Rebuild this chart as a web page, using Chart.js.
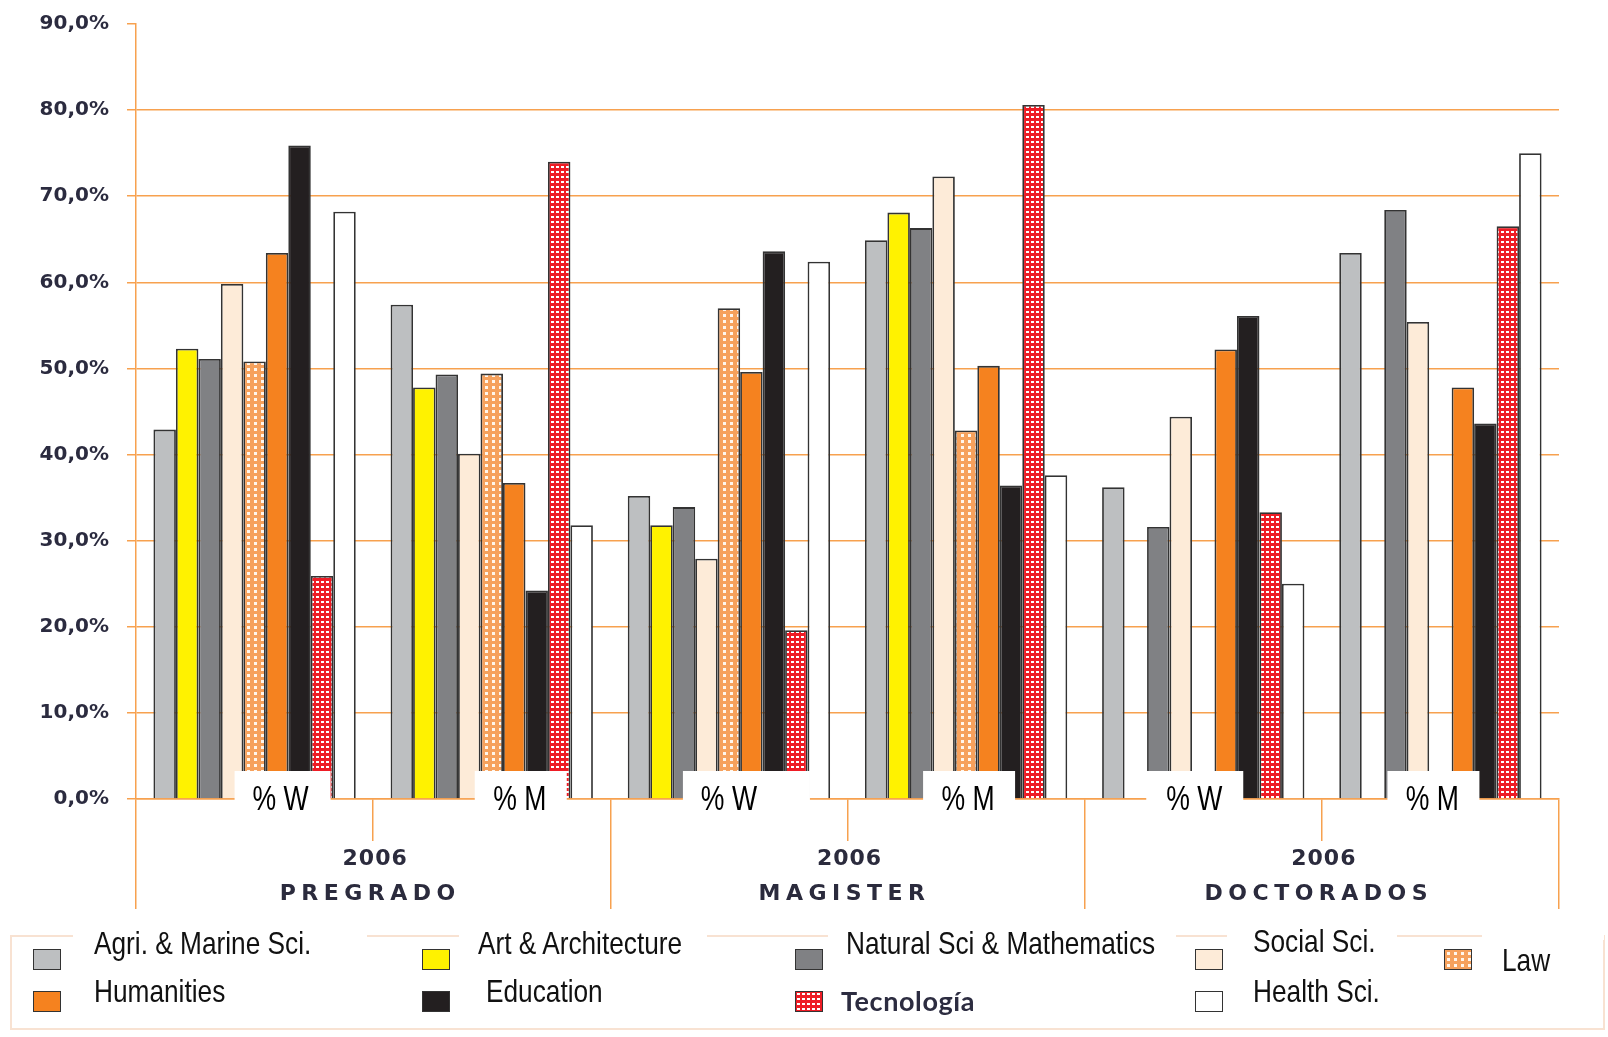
<!DOCTYPE html>
<html>
<head>
<meta charset="utf-8">
<script src="https://cdn.jsdelivr.net/npm/chart.js@4.4.1/dist/chart.umd.min.js"></script>
<style>
html,body{margin:0;padding:0;background:#fff;}
#wrap{position:relative;width:1608px;height:1037px;overflow:hidden;background:#fff;}
#c{position:absolute;left:0;top:0;}
#lgbox{position:absolute;left:10px;top:935px;width:1591px;height:91px;border:2px solid #F8E2D2;box-sizing:content-box;}
.cover{position:absolute;background:#fff;height:8px;}
.lt{position:absolute;font-family:"Liberation Sans",Arial,sans-serif;font-size:32px;line-height:36px;color:#111;white-space:nowrap;transform-origin:0 50%;transform:scaleX(0.82);}
.lt.tec{font-family:Lato,"Open Sans",sans-serif;font-weight:bold;font-size:27px;color:#2c2c40;transform:none;letter-spacing:0.6px;}
.mk{position:absolute;width:26px;height:19px;border:1.5px solid #333;}
</style>
</head>
<body>
<div id="wrap">
  <canvas id="c" width="1608" height="1037"></canvas>
  <div id="lgbox"></div>
  <div id="legend"></div>
</div>
<script>
// ---- data ----
const categories = ['% W', '% M', '% W', '% M', '% W', '% M'];
const groupYear = ['2006', '2006', '2006'];
const groupNames = ['PREGRADO', 'MAGISTER', 'DOCTORADOS'];
const seriesNames = ['Agri. & Marine Sci.', 'Art & Architecture', 'Natural Sci & Mathematics', 'Social Sci.', 'Law', 'Humanities', 'Education', 'Tecnología', 'Health Sci.'];
const agri       = [42.9, 57.4, 35.2, 64.9, 36.2, 63.4];
const art        = [52.3, 47.8, 31.8, 68.1, null, null];
const natural    = [51.1, 49.3, 33.9, 66.3, 31.6, 68.4];
const social     = [59.8, 40.1, 27.9, 72.3, 44.4, 55.4];
const law        = [50.8, 49.4, 57.0, 42.8, null, null];
const humanities = [63.4, 36.7, 49.6, 50.3, 52.2, 47.8];
const education  = [75.9, 24.2, 63.6, 36.4, 56.1, 43.6];
const tecnologia = [25.9, 74.0, 19.6, 80.6, 33.3, 66.5];
const health     = [68.2, 31.8, 62.4, 37.6, 25.0, 75.0];
const seriesValues = [agri, art, natural, social, law, humanities, education, tecnologia, health];
const yTicks = [0, 10, 20, 30, 40, 50, 60, 70, 80, 90];

// ---- styles ----
const ORANGE = '#F7A14F';
function tile(w, h, bg, dot, dx, dy, dw, dh) {
  const c = document.createElement('canvas'); c.width = w; c.height = h;
  const g = c.getContext('2d');
  g.fillStyle = bg; g.fillRect(0, 0, w, h);
  g.fillStyle = dot; g.fillRect(dx, dy, dw, dh);
  return c;
}
const lawTile = tile(7, 6, '#F6A15C', '#FFF6EC', 2, 2, 3, 3);
const tecTile = tile(5, 5, '#EE1C25', '#FFFFFF', 1, 1, 3, 2);
const ctx0 = document.getElementById('c').getContext('2d');
const lawPattern = ctx0.createPattern(lawTile, 'repeat');
const tecPattern = ctx0.createPattern(tecTile, 'repeat');
const fills = ['#BDBFC1', '#FFF200', '#808184', '#FDEBD8', lawPattern, '#F5821F', '#231F20', tecPattern, '#FFFFFF'];
const legendBg = ['#BDBFC1', '#FFF200', '#808184', '#FDEBD8', 'url(' + lawTile.toDataURL() + ') #F6A15C', '#F5821F', '#231F20', 'url(' + tecTile.toDataURL() + ') #EE1C25', '#FFFFFF'];
// label box geometry relative to category centre: [left, right, textShift]
const pctBoxes = [[-20, 76, 26], [-17, 75, 28], [-46, 81, 0], [-43, 49, 2], [-57, 40, -9], [-53, 39, -8]];

const labelPlugin = {
  id: 'labels',
  afterDraw(chart) {
    const ctx = chart.ctx, xs = chart.scales.x, x2 = chart.scales.x2;
    const base = chart.chartArea.bottom;
    ctx.save();
    categories.forEach((lab, i) => {
      const cx = xs.getPixelForValue(i);
      const b = pctBoxes[i];
      ctx.fillStyle = '#fff';
      ctx.fillRect(cx + b[0], base - 28, b[1] - b[0], 57);
      ctx.save();
      ctx.translate(cx + b[2], base + 1);
      ctx.scale(0.76, 1);
      ctx.font = '35px "Liberation Sans", Arial, sans-serif';
      ctx.fillStyle = '#000';
      ctx.textAlign = 'center';
      ctx.textBaseline = 'middle';
      ctx.fillText(lab, 0, 0);
      ctx.restore();
    });
    groupNames.forEach((name, j) => {
      const cx = x2.getPixelForValue(j);
      ctx.fillStyle = '#2b2b3d';
      ctx.textAlign = 'center';
      ctx.textBaseline = 'middle';
      ctx.font = 'bold 22px "DejaVu Sans", sans-serif';
      ctx.letterSpacing = '1px';
      ctx.fillText(groupYear[j], cx + 2, base + 60);
      ctx.letterSpacing = '5.5px';
      ctx.fillText(name, cx - 3, base + 95);
    });
    ctx.restore();
  }
};

new Chart(document.getElementById('c'), {
  type: 'bar',
  data: {
    labels: categories,
    datasets: seriesNames.map((n, k) => ({
      label: n,
      data: seriesValues[k],
      backgroundColor: fills[k],
      borderColor: '#333333',
      borderWidth: 1.8
    }))
  },
  options: {
    responsive: false,
    animation: false,
    devicePixelRatio: 1,
    layout: { padding: { left: 0, right: 49, top: 24, bottom: 128 } },
    plugins: { legend: { display: false }, tooltip: { enabled: false } },
    datasets: { bar: { categoryPercentage: 0.853, barPercentage: 1 } },
    scales: {
      x: {
        type: 'category', offset: true,
        grid: { offset: true, drawOnChartArea: false, color: ORANGE, lineWidth: 1.5, tickLength: 42 },
        border: { color: ORANGE, width: 1.5 },
        ticks: { display: false },
        afterFit(s) { s.height = 42; s.paddingLeft = 0; s.paddingRight = 0; }
      },
      x2: {
        type: 'category', labels: groupNames, position: 'bottom', offset: true,
        grid: { offset: true, drawOnChartArea: false, color: ORANGE, lineWidth: 1.5, tickLength: 68 },
        border: { display: false },
        ticks: { display: false },
        afterFit(s) { s.height = 68; s.paddingLeft = 0; s.paddingRight = 0; }
      },
      y: {
        min: 0, max: 90,
        afterBuildTicks(s) { s.ticks = yTicks.map(v => ({ value: v })); },
        ticks: {
          callback: v => v.toFixed(1).replace('.', ',') + '%',
          font: { family: '"DejaVu Sans", sans-serif', weight: 'bold', size: 20 },
          color: '#2b2b3f', padding: 18
        },
        grid: {
          color: c => (c.tick && c.tick.value === 90) ? 'rgba(0,0,0,0)' : ORANGE,
          tickColor: ORANGE, lineWidth: 1.5, tickLength: 9
        },
        border: { color: ORANGE, width: 1.5 },
        afterFit(s) { s.width = 136; s.paddingTop = 0; s.paddingBottom = 0; }
      }
    }
  },
  plugins: [labelPlugin]
});

// ---- legend (HTML) ----
const legendLayout = [
  // [series index, markerLeft, markerTop, textLeft, textCenterY, className]
  [0, 33, 949, 94, 943, ''],
  [5, 33, 991, 94, 991, ''],
  [1, 422, 949, 478, 943, ''],
  [6, 422, 991, 486, 991, ''],
  [2, 795, 949, 846, 943, ''],
  [7, 795, 991, 841, 1001, 'tec'],
  [3, 1195, 949, 1253, 941, ''],
  [8, 1195, 991, 1253, 991, ''],
  [4, 1444, 949, 1502, 960, '']
];
const covers = [[73, 367], [459, 707], [828, 1176], [1227, 1397], [1482, 1604]];
const lg = document.getElementById('legend');
covers.forEach(c => {
  const d = document.createElement('div');
  d.className = 'cover';
  d.style.left = c[0] + 'px'; d.style.width = (c[1] - c[0]) + 'px'; d.style.top = '932px';
  lg.appendChild(d);
});
legendLayout.forEach(it => {
  const m = document.createElement('div');
  m.className = 'mk';
  m.style.left = it[1] + 'px'; m.style.top = it[2] + 'px';
  m.style.background = legendBg[it[0]];
  lg.appendChild(m);
  const t = document.createElement('div');
  t.className = 'lt' + (it[5] ? ' ' + it[5] : '');
  t.textContent = seriesNames[it[0]];
  t.style.left = it[3] + 'px'; t.style.top = (it[4] - 18) + 'px';
  lg.appendChild(t);
});
</script>
</body>
</html>
